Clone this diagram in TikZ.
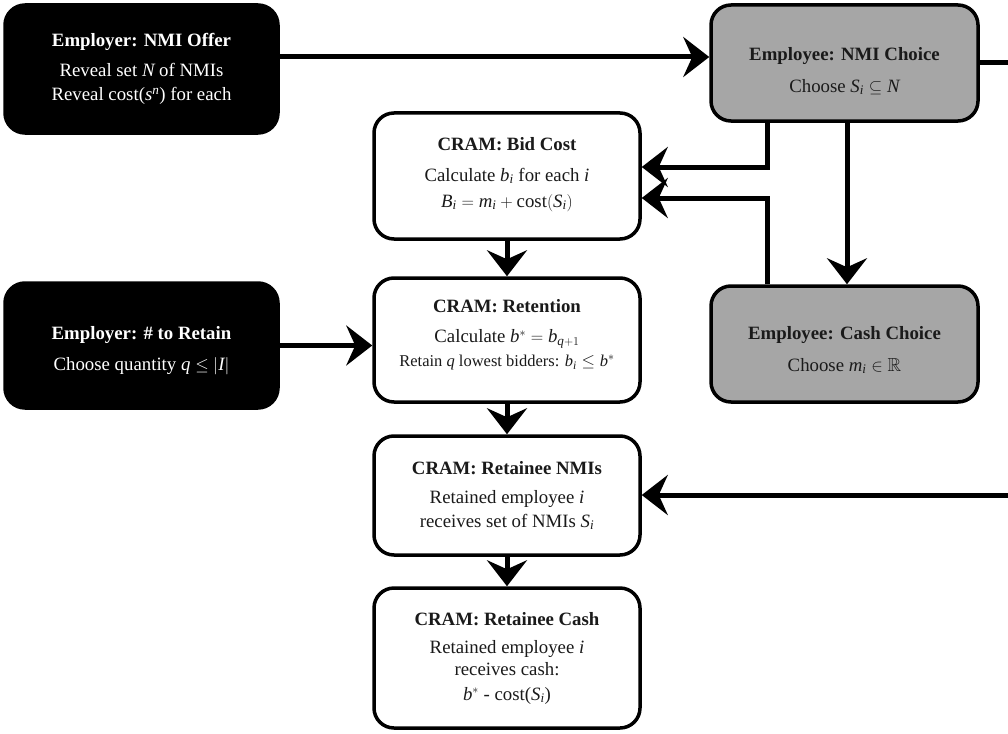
\documentclass[tikz,border=0pt]{standalone}
\usepackage{amssymb}
\usepackage{fontspec}
\setmainfont{Liberation Serif}
\usetikzlibrary{positioning, arrows.meta, calc}
\definecolor{ink}{HTML}{1A1A1A}
\definecolor{stone}{HTML}{A6A6A6}
\newcommand{\vv}[1]{\mathit{#1}}

\begin{document}
\begin{tikzpicture}[x=1pt, y=-1pt,
    box/.style={draw=black, line width=3.5pt, rounded corners=20pt, align=center,
                font=\fontsize{18.8}{24}\selectfont, inner sep=4pt},
    employerbox/.style={box, fill=black, text=white, minimum width=273pt},
    employeebox/.style={box, fill=stone, text=ink, minimum width=267pt, minimum height=116pt},
    crambox/.style={box, fill=white, text=ink, minimum width=266pt},
    arr/.style={line width=5pt, -{Stealth[length=26pt, width=40pt, inset=9pt]}}]
  \useasboundingbox (0,0) rectangle (1008,733);
  \clip (0,0) rectangle (1008,733);
  % ---- employer side ----
  \node[employerbox, minimum height=128pt] (offer) at (141.5,69)
        {\textbf{Employer: NMI Offer}\\[6pt] Reveal set $\vv{N}$ of NMIs\\ Reveal cost($\vv{s}^{\vv{n}}$) for each};
  \node[employerbox, minimum height=125pt] (retain) at (141.5,345.5)
        {\rule{0pt}{23pt}\textbf{Employer: \# to Retain}\\[7pt] Choose quantity $\vv{q} \leq |\vv{I}|$};
  % ---- employee side ----
  \node[employeebox] (choice) at (844.5,63)
        {\rule{0pt}{29pt}\textbf{Employee: NMI Choice}\\[8pt] Choose $\vv{S}_{\vv{i}} \subseteq \vv{N}$};
  \node[employeebox] (cash) at (844.5,344)
        {\rule{0pt}{25pt}\textbf{Employee: Cash Choice}\\[8pt] Choose $\vv{m}_{\vv{i}} \in \mathbb{R}$};
  % ---- CRAM steps ----
  \node[crambox, minimum height=126pt] (bidcost) at (507,176)
        {\textbf{CRAM: Bid Cost}\\[7pt] Calculate $\vv{b}_{\vv{i}}$ for each $\vv{i}$\\[2pt]
         $\vv{B}_{\vv{i}} = \vv{m}_{\vv{i}} + \mathrm{cost}(\vv{S}_{\vv{i}})$\rule[-8pt]{0pt}{0pt}};
  \node[crambox, minimum height=124pt] (retention) at (507,340)
        {\textbf{CRAM: Retention}\\[6pt] Calculate $\vv{b}^{*} = \vv{b}_{\vv{q}+1}$\\
         {\fontsize{16.5}{20}\selectfont Retain $\vv{q}$ lowest bidders: $\vv{b}_{\vv{i}} \leq \vv{b}^{*}$}\rule[-14pt]{0pt}{0pt}};
  \node[crambox, minimum height=119pt] (getnmi) at (507,495.5)
        {\textbf{CRAM: Retainee NMIs}\\[5pt] Retained employee $\vv{i}$\\ receives set of NMIs $\vv{S}_{\vv{i}}$};
  \node[crambox, minimum height=140pt] (getcash) at (507,658)
        {\textbf{CRAM: Retainee Cash}\\[4pt] Retained employee $\vv{i}$\\[-2pt] receives cash:\\[1pt]
         $\vv{b}^{*}$ - cost($\vv{S}_{\vv{i}}$)};
  % ---- bends of the connectors ----
  \coordinate (topline) at (0,57);
  \coordinate (downA) at (767,167);
  \coordinate (upB) at (767,198);
  \coordinate (dropC) at (847,0);
  \coordinate (farR) at (1030,495);
  % ---- connectors ----
  \draw[arr] (offer.east |- topline) -- (choice.west |- topline);
  \draw[arr] (choice.south -| downA) -- (downA) -- (bidcost.east |- downA);
  \draw[arr] (cash.north -| upB) -- (upB) -- (bidcost.east |- upB);
  \draw[arr] (choice.south -| dropC) -- (cash.north -| dropC);
  \draw[arr] (choice.east) -- (choice.east -| farR) -- (farR) -- (getnmi.east |- farR);
  \draw[arr] (retain.east) -- (retention.west |- retain.east);
  \draw[arr] (bidcost) -- (retention);
  \draw[arr] (retention) -- (getnmi);
  \draw[arr] (getnmi) -- (getcash);
\end{tikzpicture}
\end{document}
